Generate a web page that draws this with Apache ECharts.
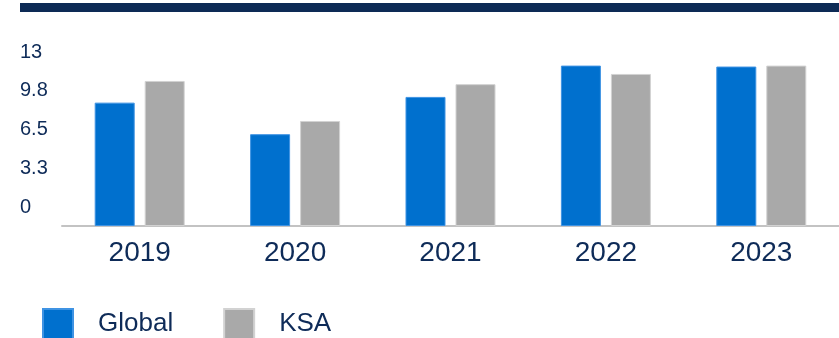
<!DOCTYPE html>
<html>
<head>
<meta charset="utf-8">
<script src="https://cdn.jsdelivr.net/npm/echarts@6/dist/echarts.min.js"></script>
<style>
  html, body { margin: 0; padding: 0; background: #fff; }
  #chart { width: 839px; height: 338px; }
</style>
</head>
<body>
<div id="chart"></div>
<script>
// Years on the category axis
const years = ['2019', '2020', '2021', '2022', '2023'];
// Series values
const globalValues = [10.36, 7.71, 10.84, 13.47, 13.39];
const ksaValues = [12.18, 8.82, 11.91, 12.77, 13.47];
// Value-axis tick labels (ticks every 3.25 from 0 to 13)
const yTickLabels = ['0', '3.3', '6.5', '9.8', '13'];

const navy = '#0E2B58';
const font = '"Liberation Sans", Arial, sans-serif';

const chart = echarts.init(document.getElementById('chart'), null, { renderer: 'canvas' });

chart.setOption({
  animation: false,
  backgroundColor: '#ffffff',
  textStyle: { fontFamily: font },
  graphic: [
    {
      type: 'rect',
      left: 20,
      top: 3,
      shape: { width: 819, height: 9 },
      style: { fill: '#0D2A55' },
      silent: true
    }
  ],
  legend: {
    left: 37,
    top: 303,
    itemWidth: 30,
    itemHeight: 30,
    itemGap: 50,
    icon: 'rect',
    textStyle: {
      fontFamily: font,
      fontSize: 26,
      color: navy,
      padding: [0, 0, 0, 20]
    },
    data: ['Global', 'KSA']
  },
  grid: {
    left: 62,
    top: 71.2,
    width: 792.5,
    height: 154.8,
    containLabel: false
  },
  xAxis: {
    type: 'category',
    data: years,
    axisLine: { show: true, lineStyle: { color: '#C3C3C3', width: 2 } },
    axisTick: { show: false },
    axisLabel: {
      fontFamily: font,
      fontSize: 28,
      color: navy,
      margin: 13
    }
  },
  yAxis: {
    type: 'value',
    min: 0,
    max: 13,
    interval: 3.25,
    splitLine: { show: false },
    axisLine: { show: false },
    axisTick: { show: false },
    axisLabel: {
      fontFamily: font,
      fontSize: 20,
      color: navy,
      align: 'left',
      margin: 42,
      interval: 0,
      // a tall line box resting on the tick lifts each label half a step
      verticalAlign: 'bottom',
      lineHeight: 38,
      showMinLabel: true,
      showMaxLabel: true,
      hideOverlap: false,
      formatter: function (value, index) {
        const t = yTickLabels[index];
        return t !== undefined ? t : '';
      }
    }
  },
  series: [
    {
      name: 'Global',
      type: 'bar',
      data: globalValues,
      barWidth: 40,
      barGap: '25%',
      clip: false,
      itemStyle: { color: '#0070CE', borderColor: '#3F93E3', borderWidth: 1 }
    },
    {
      name: 'KSA',
      type: 'bar',
      data: ksaValues,
      barWidth: 40,
      barGap: '25%',
      clip: false,
      itemStyle: { color: '#A9A9A9', borderColor: '#D2D2D2', borderWidth: 1 }
    }
  ]
});
</script>
</body>
</html>
